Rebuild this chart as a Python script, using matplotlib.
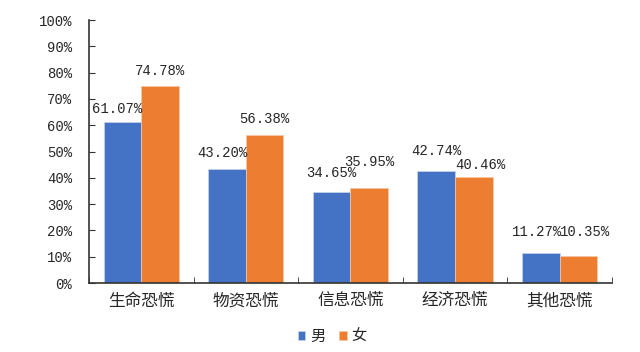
import numpy as np
import matplotlib.pyplot as plt
from matplotlib.ticker import FuncFormatter

categories = ['生命恐慌', '物资恐慌', '信息恐慌', '经济恐慌', '其他恐慌']
male = [61.07, 43.20, 34.65, 42.74, 11.27]
female = [74.78, 56.38, 35.95, 40.46, 10.35]
series_names = ['男', '女']

# hand-placed data label nudges (pixels), as in the original chart
male_dx = [-5, -5, 0, 0, -4]
male_dy = [9, 12, 15, 16, 17]
female_dx = [0, 0, 0, 7, 7]
female_dy = [11, 12, 22, 8, 20]

plt.rcParams['font.family'] = ['Liberation Mono', 'Noto Sans CJK SC', 'DejaVu Sans']

fig = plt.figure(figsize=(6.4, 3.52), dpi=100)
ax = fig.add_axes([0.139, 0.196, 0.817, 0.747])

x = np.arange(len(categories))
w = 0.36
b1 = ax.bar(x - w / 2, male, w, color='#4472C4', edgecolor='#c9d4ec', linewidth=0.5, label=series_names[0])
b2 = ax.bar(x + w / 2, female, w, color='#ED7D31', edgecolor='#f5c9a8', linewidth=0.5, label=series_names[1])

for bars, vals, dxs, dys in ((b1, male, male_dx, male_dy), (b2, female, female_dx, female_dy)):
    for r, v, dx, dy in zip(bars, vals, dxs, dys):
        ax.annotate(f'{v:.2f}%', (r.get_x() + r.get_width() / 2, v),
                    xytext=(dx * 0.72, dy * 0.72), textcoords='offset points',
                    ha='center', va='baseline', fontsize=10, color='#262626')

ax.set_xlim(-0.5, len(categories) - 0.5)
ax.set_ylim(0, 100)
ax.set_yticks(np.arange(0, 101, 10))
ax.yaxis.set_major_formatter(FuncFormatter(lambda v, p: f'{v:.0f}%'))
ax.set_xticks(x)
ax.set_xticklabels(categories, fontsize=12, color='#262626')
ax.set_xticks(np.arange(-0.5, len(categories), 1), minor=True)
ax.tick_params(axis='x', which='major', length=0, pad=7)
ax.tick_params(axis='x', which='minor', direction='in', length=4, color='#333333')
ax.tick_params(axis='y', direction='in', length=4, labelsize=10, labelcolor='#262626',
               color='#333333', pad=12)

for s in ('top', 'right'):
    ax.spines[s].set_visible(False)
for s in ('left', 'bottom'):
    ax.spines[s].set_color('#333333')
    ax.spines[s].set_linewidth(1.2)

ax.legend(loc='center', bbox_to_anchor=(0.465, -0.205), ncol=2, frameon=False,
          handlelength=0.5, handleheight=0.5, handletextpad=0.3, columnspacing=0.9,
          fontsize=11, labelcolor='#262626')

fig.savefig('out.png', dpi=100)
